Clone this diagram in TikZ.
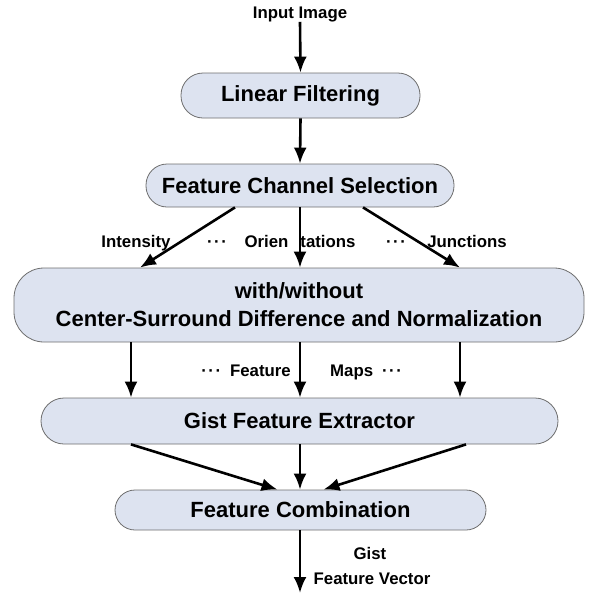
\documentclass[tikz,border=0pt]{standalone}
\usepackage{fontspec}
\setmainfont{Liberation Sans}
\usetikzlibrary{arrows.meta,calc}
\definecolor{boxfill}{RGB}{221,227,240}
\definecolor{boxline}{RGB}{110,110,110}
\newcommand{\dotsrow}{·\kern1.5pt·\kern1.5pt·}
\tikzset{
  pill/.style={draw=boxline, line width=0.8pt, fill=boxfill, font=\bfseries\fontsize{22}{28}\selectfont,
    inner sep=0pt, align=center},
  flow/.style={line width=2.6pt, -{Latex[length=16pt,width=13pt]}},
  lbl/.style={font=\bfseries\fontsize{16.8}{20}\selectfont, inner sep=0pt, align=center},
}
\begin{document}
\begin{tikzpicture}[x=1pt,y=-1pt]
\useasboundingbox (0,0) rectangle (589,595);

% stages
\node[pill, minimum width=239pt, minimum height=45pt, rounded corners=22pt] (lf) at (300.5,95.5) {Linear Filtering};
\node[pill, minimum width=308pt, minimum height=43pt, rounded corners=21pt] (fcs) at (300,185.5) {Feature Channel Selection};
\node[pill, minimum width=570pt, minimum height=74pt, rounded corners=30pt] (csd) at (299,305)
  {with/without\\Center-Surround Difference and Normalization};
\node[pill, minimum width=517pt, minimum height=46pt, rounded corners=23pt] (gfe) at (299.5,421) {Gist Feature Extractor};
\node[pill, minimum width=371pt, minimum height=40pt, rounded corners=20pt] (fc) at (300.5,510) {Feature Combination};

% input and output
\node[lbl] (in) at (300,14) {Input Image};
\coordinate (out) at (300,593);

% channel labels
\node[lbl, anchor=base] (int) at (136,247) {Intensity};
\node[lbl, anchor=base] (d1) at (217,247) {\dotsrow};
\node[lbl, anchor=base] (ori) at (300,247) {Orien\hspace{12pt}tations};
\node[lbl, anchor=base] (d2) at (396,247) {\dotsrow};
\node[lbl, anchor=base] (jun) at (467,247) {Junctions};

% feature map labels
\node[lbl, anchor=base east] (fm1) at (291,376) {\dotsrow\hspace{9pt}Feature};
\node[lbl, anchor=base west] (fm2) at (330,376) {Maps\hspace{9pt}\dotsrow};

% output label
\node[lbl, anchor=base] (gist) at (370,559) {Gist};
\node[lbl, anchor=base] (vec) at (372,584) {Feature Vector};

% connectors
\draw[flow] (in.south) -- (lf.north);
\draw[flow] (lf.south) -- (fcs.north);
\draw[flow] ([xshift=-65pt]fcs.south) -- ([xshift=-159pt]csd.north);
\draw[flow] (fcs.south) -- (csd.north -| fcs.south);
\draw[flow] ([xshift=63pt]fcs.south) -- ([xshift=161pt]csd.north);
\draw[flow] (csd.south -| 131,0) -- (gfe.north -| 131,0);
\draw[flow] (csd.south -| 300,0) -- (gfe.north -| 300,0);
\draw[flow] (csd.south -| 460,0) -- (gfe.north -| 460,0);
\draw[flow] (gfe.south -| 131,0) -- ([xshift=-23pt]fc.north);
\draw[flow] (gfe.south -| 300,0) -- (fc.north -| 300,0);
\draw[flow] (gfe.south -| 466,0) -- ([xshift=23pt]fc.north);
\draw[flow] (fc.south -| 300,0) -- (out);
\end{tikzpicture}
\end{document}
